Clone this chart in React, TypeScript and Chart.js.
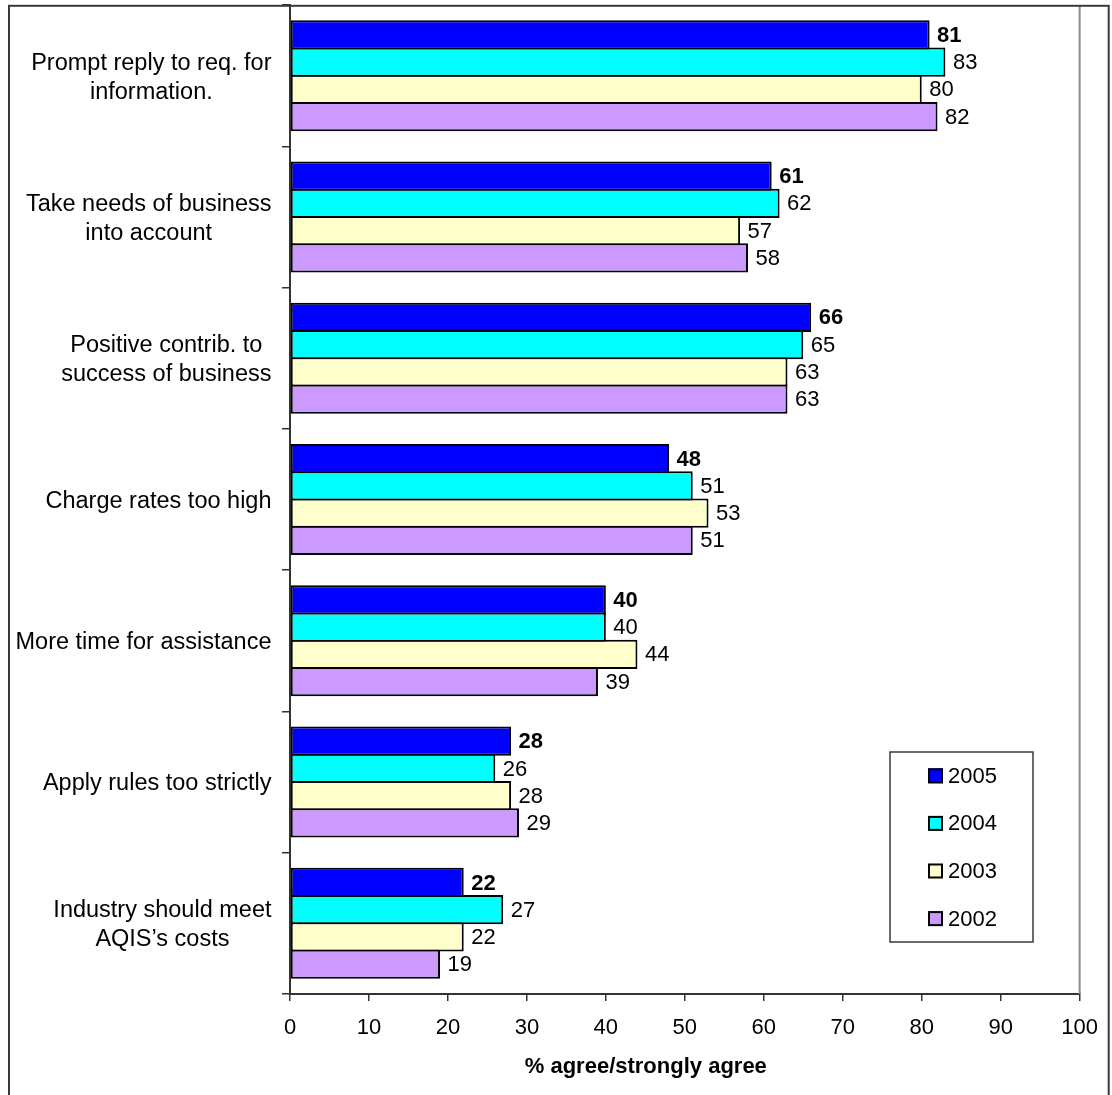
import { useEffect, useRef } from "react";
import { Chart, registerables } from "chart.js";

Chart.register(...registerables);

// Survey statements (each entry is one label, split into its printed lines)
const categories: string[][] = [
  ["Prompt reply to req. for", "information."],
  ["Take needs of business", "into account"],
  ["Positive contrib. to", "success of business"],
  ["Charge rates too high"],
  ["More time for assistance"],
  ["Apply rules too strictly"],
  ["Industry should meet", "AQIS\u2019s costs"],
];

const years = ["2005", "2004", "2003", "2002"];

// % agree/strongly agree, per statement
const values2005 = [81, 61, 66, 48, 40, 28, 22];
const values2004 = [83, 62, 65, 51, 40, 26, 27];
const values2003 = [80, 57, 63, 53, 44, 28, 22];
const values2002 = [82, 58, 63, 51, 39, 29, 19];

const seriesValues = [values2005, values2004, values2003, values2002];
const seriesColors = ["#0000FF", "#00FFFF", "#FFFFCC", "#CC99FF"];

const xMin = 0;
const xMax = 100;
const xStep = 10;
const axisTitle = "% agree/strongly agree";

const FONT = "'Liberation Sans', Arial, Helvetica, sans-serif";

// Outer frame, plot right edge, category labels, value labels, axis title and legend box
const decorations = {
  id: "decorations",
  afterDraw(chart: Chart) {
    const { ctx, chartArea } = chart;
    const yScale = chart.scales.y;
    const xScale = chart.scales.x;
    ctx.save();

    // plot-area right edge
    ctx.strokeStyle = "#8c8c8c";
    ctx.lineWidth = 2;
    ctx.beginPath();
    ctx.moveTo(chartArea.right, chartArea.top);
    ctx.lineTo(chartArea.right, chartArea.bottom);
    ctx.stroke();

    // outer frame (runs off the bottom of the canvas)
    ctx.strokeStyle = "#3a3a3a";
    ctx.lineWidth = 2;
    ctx.strokeRect(9, 5.8, 1099.7, 1110);

    // category labels: lines centred on each other, block right-aligned
    const labelSize = 23.5;
    const lineGap = 29;
    const rightEdge = 271.5;
    ctx.font = `${labelSize}px ${FONT}`;
    ctx.fillStyle = "#000";
    ctx.textBaseline = "alphabetic";
    ctx.textAlign = "center";
    const capH = 0.716 * labelSize;
    categories.forEach((lines, i) => {
      const cy = yScale.getPixelForValue(i);
      const blockW = Math.max(...lines.map((l) => ctx.measureText(l).width));
      const cx = rightEdge - blockW / 2;
      lines.forEach((line, j) => {
        const by = cy + capH / 2 + (j - (lines.length - 1) / 2) * lineGap;
        ctx.fillText(line, cx, by);
      });
    });

    // value labels at the end of each bar
    ctx.textAlign = "left";
    ctx.textBaseline = "middle";
    chart.data.datasets.forEach((ds, di) => {
      const meta = chart.getDatasetMeta(di);
      ctx.font = `${di === 0 ? "bold " : ""}22px ${FONT}`;
      meta.data.forEach((bar: any, i: number) => {
        const v = (ds.data as number[])[i];
        ctx.fillText(String(v), xScale.getPixelForValue(v) + 7.5, bar.y + 1);
      });
    });

    // axis title
    ctx.font = `bold 22px ${FONT}`;
    ctx.textAlign = "center";
    ctx.textBaseline = "alphabetic";
    ctx.fillText(axisTitle, 645.8, 1073);

    // legend box
    const lx = 890, ly = 752, lw = 143, lh = 190;
    ctx.fillStyle = "#fff";
    ctx.fillRect(lx, ly, lw, lh);
    ctx.strokeStyle = "#3a3a3a";
    ctx.lineWidth = 1.5;
    ctx.strokeRect(lx, ly, lw, lh);
    ctx.font = `22px ${FONT}`;
    ctx.textAlign = "left";
    ctx.textBaseline = "middle";
    years.forEach((yr, i) => {
      const cy = 775.8 + i * 47.6;
      ctx.fillStyle = seriesColors[i];
      ctx.fillRect(928, cy - 7.5, 15, 15);
      ctx.strokeStyle = "#000";
      ctx.lineWidth = 2;
      ctx.strokeRect(929, cy - 6.5, 13, 13);
      ctx.fillStyle = "#000";
      ctx.fillText(yr, 948, cy + 1);
    });

    ctx.restore();
  },
};

export default function App() {
  const ref = useRef<HTMLCanvasElement>(null);

  useEffect(() => {
    const canvas = ref.current;
    if (!canvas) return;
    const chart = new Chart(canvas, {
      type: "bar",
      data: {
        labels: categories.map((c) => c.join(" ")),
        datasets: years.map((yr, i) => ({
          label: yr,
          data: seriesValues[i],
          backgroundColor: seriesColors[i],
          borderColor: "#000",
          borderWidth: 2,
          borderSkipped: false,
          categoryPercentage: 0.7714,
          barPercentage: 1.0734,
        })),
      },
      options: {
        indexAxis: "y",
        responsive: false,
        animation: false,
        events: [],
        layout: { padding: { top: 5, right: 25, left: 0, bottom: 0 } },
        plugins: {
          legend: { display: false },
          tooltip: { enabled: false },
          title: { display: false },
        },
        scales: {
          x: {
            type: "linear",
            min: xMin,
            max: xMax,
            ticks: {
              stepSize: xStep,
              color: "#000",
              font: { size: 22, family: FONT },
              padding: 14,
            },
            grid: {
              drawOnChartArea: false,
              drawTicks: true,
              tickLength: 7,
              color: "#333",
              lineWidth: 1.5,
            },
            border: { display: true, color: "#333", width: 2 },
            afterFit(scale: any) {
              scale.height = 101;
            },
          },
          y: {
            type: "category",
            offset: true,
            ticks: { display: false },
            grid: {
              offset: true,
              drawOnChartArea: false,
              drawTicks: true,
              tickLength: 8,
              color: "#333",
              lineWidth: 1.5,
            },
            border: { display: true, color: "#333", width: 2 },
            afterFit(scale: any) {
              scale.width = 290;
            },
          },
        },
      },
      plugins: [decorations],
    });
    return () => chart.destroy();
  }, []);

  return (
    <div
      style={{
        position: "absolute",
        left: 0,
        top: 0,
        width: 1112,
        height: 1095,
        background: "#fff",
        overflow: "hidden",
      }}
    >
      <canvas ref={ref} width={1112} height={1095} style={{ display: "block" }} />
    </div>
  );
}
